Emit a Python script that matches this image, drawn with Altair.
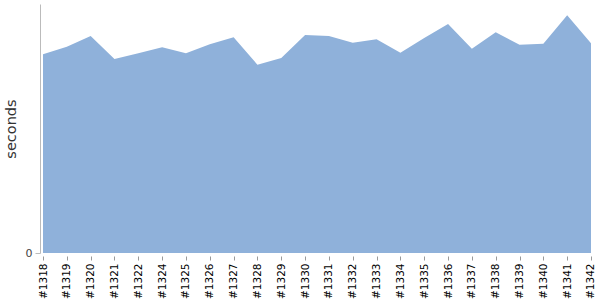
import altair as alt
import pandas as pd

builds = ["#1318", "#1319", "#1320", "#1321", "#1322", "#1324", "#1325", "#1326",
          "#1327", "#1328", "#1329", "#1330", "#1331", "#1332", "#1333", "#1334",
          "#1335", "#1336", "#1337", "#1338", "#1339", "#1340", "#1341", "#1342"]
seconds = [198.7, 206.3, 217.0, 194.0, 199.7, 205.7, 199.7, 208.7,
           215.7, 188.3, 195.0, 218.0, 217.0, 210.3, 213.7, 200.3,
           215.0, 229.0, 204.3, 220.7, 208.3, 209.3, 237.7, 209.7]
y_max = 249

df = pd.DataFrame({"build": builds, "seconds": seconds})

chart = alt.Chart(df).mark_area(color="#8FB1DA", opacity=1).encode(
    x=alt.X("build:N", sort=None, title=None,
            scale=alt.Scale(type="point", padding=0.126),
            axis=alt.Axis(labelAngle=-90, labelAlign="right", labelBaseline="middle",
                          labelFont="DejaVu Sans", labelFontSize=10.5, labelColor="#000",
                          labelPadding=3, tickSize=4, tickColor="#999", offset=3,
                          domain=False, grid=False, labelOverlap=False)),
    y=alt.Y("seconds:Q", title="seconds",
            scale=alt.Scale(domain=[0, y_max], nice=False, zero=True),
            axis=alt.Axis(values=[0], grid=False, domainColor="#bbb", tickColor="#bbb",
                          tickSize=5, labelFont="DejaVu Sans", labelFontSize=11,
                          labelColor="#444", labelPadding=3,
                          titleFont="DejaVu Sans", titleFontSize=14.5, titleFontWeight="normal",
                          titleColor="#333", titleX=-25, titleY=124.5,
                          titleBaseline="alphabetic", titleAngle=-90)),
).properties(
    width=554, height=249,
    autosize=alt.AutoSizeParams(type="none"),
    padding={"left": 40, "top": 4, "right": 6, "bottom": 47},
).configure_view(stroke=None)

chart.save("out.html", embed_options={"renderer": "svg", "actions": False})
